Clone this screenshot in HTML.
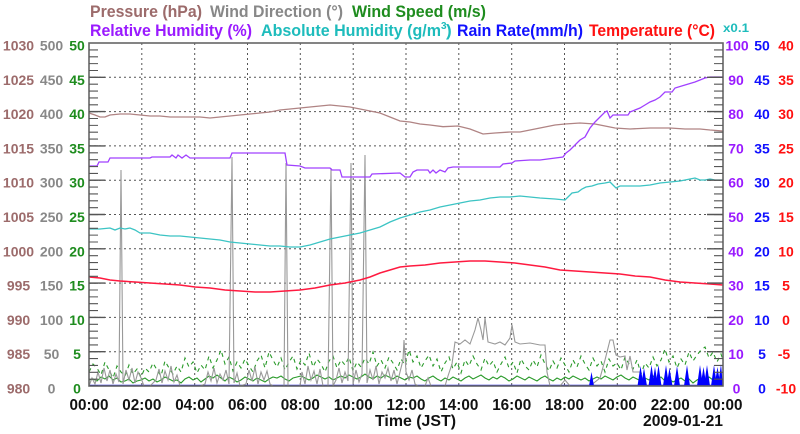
<!DOCTYPE html>
<html><head><meta charset="utf-8"><style>
html,body{margin:0;padding:0;background:#fff;}
svg{display:block;}
text{font-family:"Liberation Sans",Arial,sans-serif;font-weight:bold;}
</style></head><body>
<svg width="800" height="434" viewBox="0 0 800 434" xmlns="http://www.w3.org/2000/svg">
<rect width="800" height="434" fill="#fff"/>

<!-- Legend -->
<text x="90" y="17" font-size="17" fill="#9c6b6b" textLength="112" lengthAdjust="spacingAndGlyphs">Pressure (hPa)</text>
<text x="210" y="17" font-size="17" fill="#888" textLength="133" lengthAdjust="spacingAndGlyphs">Wind Direction (°)</text>
<text x="352" y="17" font-size="17" fill="#1e8c1e" textLength="134" lengthAdjust="spacingAndGlyphs">Wind Speed (m/s)</text>
<text x="90" y="36" font-size="17" fill="#9a1aff" textLength="162" lengthAdjust="spacingAndGlyphs">Relative Humidity (%)</text>
<text x="261" y="36" font-size="17" fill="#1ebcbc" textLength="180" lengthAdjust="spacingAndGlyphs">Absolute Humidity (g/m</text>
<text x="441" y="29" font-size="10" fill="#1ebcbc">3</text>
<text x="446" y="36" font-size="17" fill="#1ebcbc">)</text>
<text x="457" y="36" font-size="17" fill="#1010ff" textLength="126" lengthAdjust="spacingAndGlyphs">Rain Rate(mm/h)</text>
<text x="589" y="36" font-size="17" fill="#ff1010" textLength="126" lengthAdjust="spacingAndGlyphs">Temperature (°C)</text>
<text x="723" y="32" font-size="12" fill="#1ebcbc" textLength="26" lengthAdjust="spacingAndGlyphs">x0.1</text>

<!-- Grid -->
<g stroke="#555" stroke-width="1" stroke-dasharray="2,3" fill="none">
<path d="M141.8 43V386M194.7 43V386M247.5 43V386M300.3 43V386M353.2 43V386M406 43V386M458.8 43V386M511.7 43V386M564.5 43V386M617.3 43V386M670.2 43V386"/>
<path d="M89 77.3H723M89 111.6H723M89 145.9H723M89 180.2H723M89 214.5H723M89 248.8H723M89 283.1H723M89 317.4H723M89 351.7H723"/>
</g>

<!-- Rain baseline -->
<path d="M89 385.3H723" stroke="#2020e0" stroke-width="1.2" fill="none"/>

<!-- Wind speed avg -->
<polyline fill="none" stroke="#2a9a2a" stroke-width="1.1" points="89,380 93,379 97,381 101,377 105,379 109,376 113,380 117,378 121,382 125,381 129,379 133,383 137,381 141,380 145,378 149,381 153,379 157,382 161,380 165,377 169,379 173,381 177,380 181,383 185,379 189,377 193,380 197,378 201,382 205,379 209,376 213,378 217,375 221,378 225,381 229,377 233,379 237,382 241,380 245,377 249,379 253,381 257,378 261,380 265,382 269,379 273,377 277,378 281,376 285,379 289,381 293,378 297,377 301,376 305,378 309,380 313,378 317,375 321,377 325,379 329,377 333,380 337,378 341,376 345,378 349,375 353,377 357,379 361,377 365,374 369,377 373,379 377,376 381,378 385,375 389,377 393,379 397,376 401,378 405,380 409,377 413,378 417,376 421,379 425,381 429,378 433,376 437,379 441,381 445,378 449,380 453,377 457,379 461,381 465,378 469,376 473,379 477,377 481,375 485,378 489,380 493,377 497,379 501,376 505,378 509,381 513,379 517,376 521,378 525,380 529,377 533,379 537,381 541,378 545,376 549,379 553,381 557,378 561,380 565,377 569,379 573,376 577,378 581,380 585,378 589,381 593,379 597,377 601,379 605,376 609,378 613,380 617,377 621,375 625,378 629,380 633,377 637,379 641,381 645,378 649,380 653,376 657,379 661,377 665,381 669,379 673,382 677,380 681,378 685,381 689,379 693,383 697,380 701,378 705,381 709,377 713,380 717,378 721,381 723,380"/>

<!-- Wind speed gust (dashed) -->
<polyline fill="none" stroke="#2a9a2a" stroke-width="1.1" stroke-dasharray="4,4" points="89,372 93,364 97,368 101,375 105,362 109,370 113,378 117,366 121,372 125,376 129,365 133,374 137,369 141,377 145,368 149,372 153,363 157,370 161,376 165,361 169,368 173,374 177,366 181,372 185,358 189,367 193,362 197,373 201,365 205,370 209,356 213,368 217,360 221,350 225,364 229,357 233,371 237,362 241,368 245,359 249,366 253,372 257,361 261,355 265,368 269,352 273,360 277,367 281,358 285,370 289,362 293,356 297,369 301,360 305,365 309,353 313,367 317,359 321,364 325,372 329,361 333,356 337,368 341,360 345,365 349,357 353,371 357,362 361,367 365,358 369,364 373,352 377,366 381,360 385,368 389,357 393,363 397,370 401,359 405,365 409,350 413,362 417,356 421,368 425,361 429,355 433,366 437,359 441,372 445,363 449,357 453,369 457,362 461,373 465,360 469,366 473,356 477,364 481,370 485,358 489,366 493,361 497,372 501,364 505,357 509,368 513,362 517,373 521,359 525,366 529,370 533,360 537,367 541,355 545,364 549,371 553,361 557,368 561,358 565,365 569,372 573,360 577,367 581,356 585,364 589,370 593,358 597,366 601,361 605,372 609,359 613,366 617,363 621,370 625,357 629,364 633,369 637,360 641,374 645,363 649,368 653,357 657,366 661,360 665,349 669,362 673,356 677,368 681,359 685,365 689,352 693,361 697,355 701,350 705,347 709,358 713,352 717,362 721,354 723,360"/>

<!-- Wind direction -->
<polyline fill="none" stroke="#999" stroke-width="1.1" points="89,386 92,378 95,384 98,372 101,383 104,368 107,381 110,370 113,384 116,374 119,382 121,170 123,384 126,370 129,380 132,368 135,383 138,372 141,378 144,386 150,386 156,380 159,369 162,383 165,371 168,380 171,366 174,382 177,375 180,386 200,386 205,384 208,372 211,381 214,368 217,383 220,374 223,380 226,370 229,384 232,157 234,383 237,373 240,386 246,384 249,370 252,381 255,367 258,384 261,372 264,380 267,371 270,384 273,386 284,386 286,163 288,386 300,386 302,372 305,384 308,366 311,380 314,371 317,384 320,369 323,386 328,386 331,168 333,386 336,380 339,368 342,383 345,372 348,381 351,163 353,384 356,370 359,382 362,374 365,155 367,383 370,370 373,380 376,366 379,384 382,372 385,378 388,368 391,381 394,370 397,384 400,372 403,360 404,340 406,372 409,380 412,370 415,384 418,386 425,386 428,378 431,386 445,386 448,376 452,364 455,342 460,344 465,340 470,344 475,330 478,318 481,330 483,340 485,318 488,342 495,344 500,342 505,345 510,338 512,325 515,342 520,344 530,343 540,345 545,345 547,372 550,386 560,386 565,380 570,386 590,386 600,378 605,360 610,340 613,340 616,355 620,357 625,356 627,370 630,356 633,372 640,372 643,386 665,386 668,378 671,386 723,386"/>

<!-- Rain spikes -->
<g fill="#0000ff">
<polygon points="589,386 591.5,372 594,386"/>
<polygon points="637.5,386 640.5,366 643.5,386"/>
<polygon points="641,386 644,368 647,386"/>
<polygon points="648.5,386 651.5,365 654.5,386"/>
<polygon points="652,386 655,367 658,386"/>
<polygon points="655.5,386 658.5,365 661.5,386"/>
<polygon points="663,386 666,365 669,386"/>
<polygon points="666.5,386 669.5,368 672.5,386"/>
<polygon points="674,386 677,366 680,386"/>
<polygon points="684,386 687,365 690,386"/>
<polygon points="697,386 700,365 703,386"/>
<polygon points="700.5,386 703.5,367 706.5,386"/>
<polygon points="704,386 707,365 710,386"/>
<polygon points="711,386 714,365 717,386"/>
<polygon points="714.5,386 717.5,367 720.5,386"/>
<polygon points="718,386 721,364 723,386"/>
</g>

<!-- Pressure -->
<polyline fill="none" stroke="#b08484" stroke-width="1.3" points="89,113 95,115 100,117 105,117 110,115 120,114 130,114 140,115 150,116 160,116 170,117 180,117 190,117 200,117 210,118 220,117 230,116 240,115 250,114 260,113 270,112 280,110 290,109 300,108 310,107 320,106 330,105 340,106 350,107 360,109 370,111 380,113 390,117 400,121 410,122 420,124 430,125 443,126.7 458,126 470,129 483,134 495,133 510,132 520,132 530,130 545,127 555,125 565,124 580,123 595,124 605,126 615,128 630,129 650,128 670,128 685,129 700,129 710,130 723,131"/>

<!-- Relative humidity -->
<polyline fill="none" stroke="#a040ff" stroke-width="1.3" points="89,166 97,166 99,162 108,162 110,158 150,158 152,157 170,157 172,155 176,158 178,155 182,158 186,155 190,158 230,158 232,153 285,153 287,165 300,166 305,168 330,168 332,170 340,170 342,177 370,177 372,174 400,173 405,177 410,177 413,172 417,170 428,170 430,173 433,170 436,173 440,170 445,172 448,168 453,167 500,167 503,164 512,163 515,161 530,160 540,160 563,157 566,153 570,150 575,145 580,140 585,137 590,128 595,122 600,117 605,112 607,111 610,118 613,115 628,115 630,112 635,110 640,108 645,105 650,102 655,100 660,97 665,92 672,92 675,88 685,85 695,82 705,78 710,77 723,77"/>

<!-- Absolute humidity -->
<polyline fill="none" stroke="#3cc4c4" stroke-width="1.3" points="89,229 100,229 110,228 115,230 120,228 125,229 130,228 135,230 140,233 150,233 160,235 170,236 180,236 190,237 200,238 210,239 220,240 230,242 240,243 250,244 260,245 270,246 280,246 290,247 300,247 310,245 320,242 330,239 340,237 350,235 360,233 370,230 380,227 390,222 400,218 410,215 420,212 430,210 440,207 450,205 460,203 470,201 480,200 490,198 500,197 510,197 520,196 530,197 540,198 555,199 565,200 568,197 572,193 578,192 582,189 586,187 592,186 598,184 605,183 610,182 613,185 616,188 620,186 630,186 640,186 650,185 660,183 670,182 680,181 690,179 695,178 700,180 705,180 710,179 715,180 723,180"/>

<!-- Temperature -->
<polyline fill="none" stroke="#ff1a40" stroke-width="1.5" points="89,277 100,278 110,280 120,281 135,282 150,283 165,284 180,285 195,287 210,288 225,290 240,291 255,292 270,292 285,291 300,290 315,288 330,285 345,283 360,280 370,277 380,273 390,270 400,267 410,266 425,265 440,263 455,262 470,261 485,261 500,262 515,263 530,265 545,267 560,270 575,271 590,272 605,273 620,274 635,276 650,277 665,280 680,282 695,283 710,284 723,285"/>

<!-- Frame -->
<rect x="89" y="43" width="634" height="343" fill="none" stroke="#666" stroke-width="1.6"/>

<!-- Minor ticks -->
<line x1="93.5" y1="49.36" x2="93.5" y2="386" stroke="#555" stroke-width="9" stroke-dasharray="1.1 5.76"/>
<line x1="718.5" y1="49.36" x2="718.5" y2="386" stroke="#555" stroke-width="9" stroke-dasharray="1.1 5.76"/>
<!-- Major ticks -->
<path d="M89 77.3h16M89 111.6h16M89 145.9h16M89 180.2h16M89 214.5h16M89 248.8h16M89 283.1h16M89 317.4h16M89 351.7h16M723 77.3h-16M723 111.6h-16M723 145.9h-16M723 180.2h-16M723 214.5h-16M723 248.8h-16M723 283.1h-16M723 317.4h-16M723 351.7h-16" stroke="#555" stroke-width="1.4" fill="none"/>

<!-- Left labels -->
<g font-size="14" text-anchor="middle">
<g fill="#9c6b6b">
<text x="18.5" y="50.5">1030</text><text x="18.5" y="84.8">1025</text><text x="18.5" y="119.1">1020</text><text x="18.5" y="153.4">1015</text><text x="18.5" y="187.7">1010</text><text x="18.5" y="222">1005</text><text x="18.5" y="256.3">1000</text><text x="18.5" y="290.6">995</text><text x="18.5" y="324.9">990</text><text x="18.5" y="359.2">985</text><text x="18.5" y="393.5">980</text>
</g>
<g fill="#888">
<text x="51.5" y="50.5">500</text><text x="51.5" y="84.8">450</text><text x="51.5" y="119.1">400</text><text x="51.5" y="153.4">350</text><text x="51.5" y="187.7">300</text><text x="51.5" y="222">250</text><text x="51.5" y="256.3">200</text><text x="51.5" y="290.6">150</text><text x="51.5" y="324.9">100</text><text x="51.5" y="359.2">50</text><text x="51.5" y="393.5">0</text>
</g>
<g fill="#1e8c1e">
<text x="77" y="50.5">50</text><text x="77" y="84.8">45</text><text x="77" y="119.1">40</text><text x="77" y="153.4">35</text><text x="77" y="187.7">30</text><text x="77" y="222">25</text><text x="77" y="256.3">20</text><text x="77" y="290.6">15</text><text x="77" y="324.9">10</text><text x="77" y="359.2">5</text><text x="77" y="393.5">0</text>
</g>
<!-- Right labels -->
<g fill="#9a1aff">
<text x="737" y="50.5">100</text><text x="736" y="84.8">90</text><text x="736" y="119.1">80</text><text x="736" y="153.4">70</text><text x="736" y="187.7">60</text><text x="736" y="222">50</text><text x="736" y="256.3">40</text><text x="736" y="290.6">30</text><text x="736" y="324.9">20</text><text x="736" y="359.2">10</text><text x="736.5" y="393.5">0</text>
</g>
<g fill="#1010ff">
<text x="762" y="50.5">50</text><text x="762" y="84.8">45</text><text x="762" y="119.1">40</text><text x="762" y="153.4">35</text><text x="762" y="187.7">30</text><text x="762" y="222">25</text><text x="762" y="256.3">20</text><text x="762" y="290.6">15</text><text x="762" y="324.9">10</text><text x="762" y="359.2">5</text><text x="762" y="393.5">0</text>
</g>
<g fill="#ff1010">
<text x="786" y="50.5">40</text><text x="786" y="84.8">35</text><text x="786" y="119.1">30</text><text x="786" y="153.4">25</text><text x="786" y="187.7">20</text><text x="786" y="222">15</text><text x="786" y="256.3">10</text><text x="786" y="290.6">5</text><text x="786" y="324.9">0</text><text x="784" y="359.2">-5</text><text x="786" y="393.5">-10</text>
</g>
</g>

<!-- X labels -->
<g font-size="16" fill="#111" text-anchor="middle">
<text x="89" y="410" textLength="39" lengthAdjust="spacingAndGlyphs">00:00</text>
<text x="141.8" y="410" textLength="39" lengthAdjust="spacingAndGlyphs">02:00</text>
<text x="194.7" y="410" textLength="39" lengthAdjust="spacingAndGlyphs">04:00</text>
<text x="247.5" y="410" textLength="39" lengthAdjust="spacingAndGlyphs">06:00</text>
<text x="300.3" y="410" textLength="39" lengthAdjust="spacingAndGlyphs">08:00</text>
<text x="353.2" y="410" textLength="39" lengthAdjust="spacingAndGlyphs">10:00</text>
<text x="406" y="410" textLength="39" lengthAdjust="spacingAndGlyphs">12:00</text>
<text x="458.8" y="410" textLength="39" lengthAdjust="spacingAndGlyphs">14:00</text>
<text x="511.7" y="410" textLength="39" lengthAdjust="spacingAndGlyphs">16:00</text>
<text x="564.5" y="410" textLength="39" lengthAdjust="spacingAndGlyphs">18:00</text>
<text x="617.3" y="410" textLength="39" lengthAdjust="spacingAndGlyphs">20:00</text>
<text x="670.2" y="410" textLength="39" lengthAdjust="spacingAndGlyphs">22:00</text>
<text x="723" y="410" textLength="39" lengthAdjust="spacingAndGlyphs">00:00</text>
<text x="415.5" y="426" textLength="81" lengthAdjust="spacingAndGlyphs">Time (JST)</text>
</g>
<text x="643" y="426" font-size="16" fill="#111" textLength="80" lengthAdjust="spacingAndGlyphs">2009-01-21</text>
</svg>
</body></html>
